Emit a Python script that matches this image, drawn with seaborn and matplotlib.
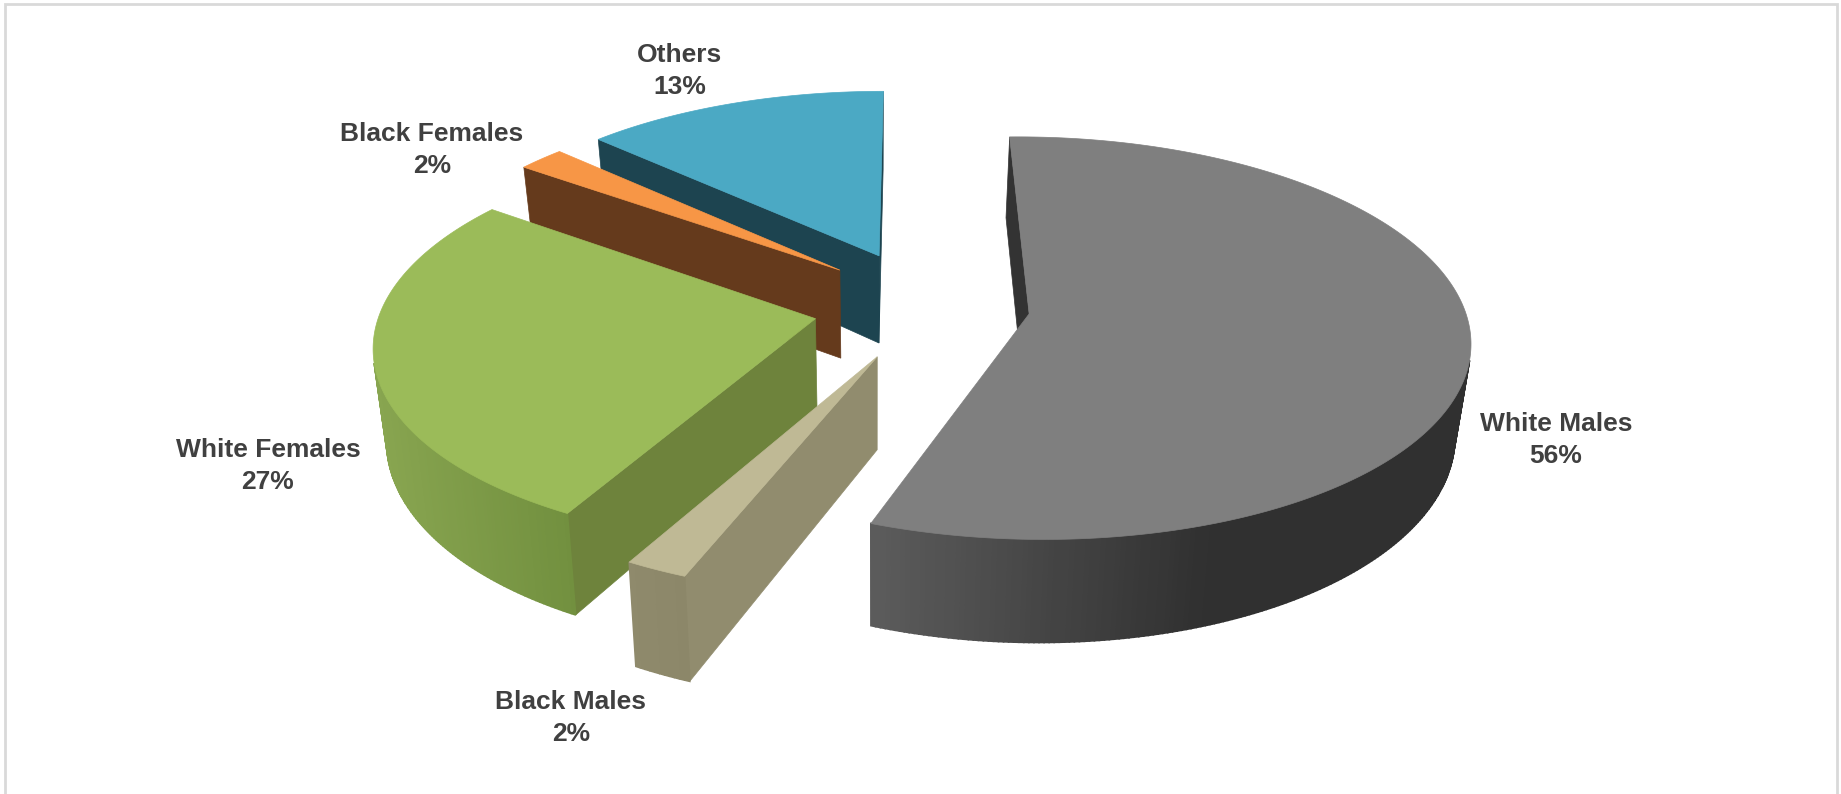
import numpy as np
import seaborn as sns
import matplotlib.pyplot as plt
from matplotlib.patches import Polygon

# Data
names = ['White Males', 'Black Males', 'White Females', 'Black Females', 'Others']
shares = [56, 2, 27, 2, 13]

# Colours: top face, cut wall, rim at left, rim at right
top_colors = ['#7f7f7f', '#bfb995', '#9bbb59', '#f79646', '#4ba9c4']
wall_colors = ['#333333', '#918c6e', '#6e833c', '#653a1c', '#1d4450']
rim_left = ['#5c5c5c', '#8f8a6c', '#88a550', '#653a1c', '#1d4450']
rim_right = ['#303030', '#8c8769', '#72903f', '#653a1c', '#1d4450']

# Label centres in pixels
label_xy = {'White Males': (1556, 440), 'Black Males': (571, 718), 'White Females': (268, 466),
            'Black Females': (432, 150), 'Others': (680, 71)}

# Projection of the fake 3D pie
R = 434.0
CX, CY = 920.0, 306.0
TILT = 0.451
PERSP = 0.12
EXPLODE = 0.245
EXPLODE_V = 1.2
DEPTH = 90.0
VANISH_X = 875.0
SHRINK = 0.973

# Small per slice corrections, same order as names
slice_turn = [-1.2, 0, 0, 0, 0]  # degrees
slice_shift = [(4, -3), (4, -3), (0, 0), (0, 0), (0, 1)]  # pixels


def project(u, v, shift, bottom=False):
    s = 1 / (1 + PERSP * v)
    x = CX + R * u * s + shift[0]
    y = CY - R * TILT * v * s + shift[1]
    if bottom:
        x = VANISH_X + (x - VANISH_X) * SHRINK
        y = y + DEPTH * s
    return x, y


def faces_viewer(pts):
    # y axis points down in pixels, faces we can see wind anticlockwise on screen
    pts = np.array(pts)
    x, y = pts[:, 0], pts[:, 1]
    return np.sum(x * np.roll(y, -1) - np.roll(x, -1) * y) < 0


sns.set_theme(style='white')
plt.rcParams['font.family'] = ['Liberation Sans', 'DejaVu Sans']

fig = plt.figure(figsize=(18.41, 7.94), dpi=100)
ax = fig.add_axes([0, 0, 1, 1])
ax.set_xlim(0, 1841)
ax.set_ylim(794, 0)
ax.axis('off')

# Chart frame, open at the bottom edge
ax.plot([5, 5, 1837, 1837], [794, 4, 4, 794], color='#d9d9d9', lw=2, solid_joinstyle='miter')

edges = np.cumsum([0] + shares) / sum(shares) * 2 * np.pi

# Far slices first so the near ones cover them
for i in [4, 3, 2, 1, 0]:
    turn = np.radians(slice_turn[i])
    shift = slice_shift[i]
    a0, a1 = edges[i], edges[i + 1]
    mid = (a0 + a1) / 2
    ox, oy = EXPLODE * np.sin(mid), EXPLODE * EXPLODE_V * np.cos(mid)
    n = max(int((a1 - a0) / np.radians(0.6)), 2)
    angs = np.linspace(a0, a1, n + 1) + turn
    us = ox + np.sin(angs)
    vs = oy + np.cos(angs)

    # Cut walls
    apex_t = project(ox, oy, shift)
    apex_b = project(ox, oy, shift, True)
    wall_a = [apex_t, project(us[0], vs[0], shift), project(us[0], vs[0], shift, True), apex_b]
    wall_b = [project(us[-1], vs[-1], shift), apex_t, apex_b, project(us[-1], vs[-1], shift, True)]
    for wall in (wall_a, wall_b):
        if faces_viewer(wall):
            ax.add_patch(Polygon(wall, closed=True, fc=wall_colors[i], ec=wall_colors[i], lw=0.5))

    # Outer rim in thin strips, shaded left to right
    rim_x = [project(u, v, shift)[0] for u, v in zip(us, vs)]
    shades = sns.blend_palette([rim_left[i], rim_right[i]], 64)
    for k in range(n):
        quad = [project(us[k], vs[k], shift), project(us[k + 1], vs[k + 1], shift),
                project(us[k + 1], vs[k + 1], shift, True), project(us[k], vs[k], shift, True)]
        if faces_viewer(quad):
            if i == 0:
                # the big slice goes flat dark past the middle of its rim
                f = np.clip((rim_x[k] - 870) / 340, 0, 1)
            else:
                f = (rim_x[k] - min(rim_x)) / (max(rim_x) - min(rim_x))
            c = shades[int(f * 63)]
            ax.add_patch(Polygon(quad, closed=True, fc=c, ec=c, lw=1.2))

    # Top face
    top = [apex_t] + [project(u, v, shift) for u, v in zip(us, vs)]
    ax.add_patch(Polygon(top, closed=True, fc=top_colors[i], ec=top_colors[i], lw=0.5))

for name, share in zip(names, shares):
    x, y = label_xy[name]
    ax.text(x, y, f'{name}\n{share}%', ha='center', va='center', fontsize=19,
            fontweight='bold', color='#404040', linespacing=1.4)

plt.savefig('out.png', dpi=100)
